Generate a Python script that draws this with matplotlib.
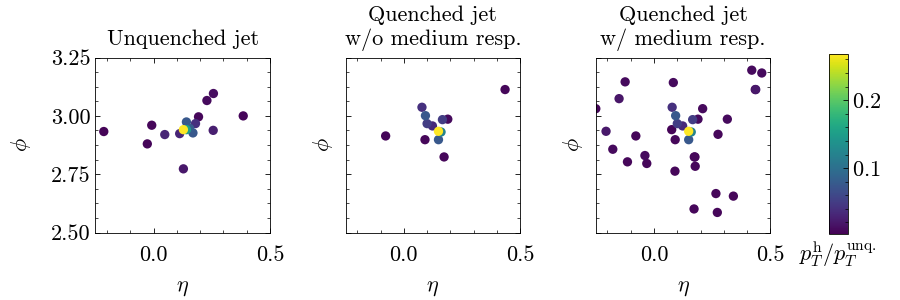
import numpy as np
import matplotlib
matplotlib.use("Agg")
import matplotlib.pyplot as plt
from matplotlib.ticker import AutoMinorLocator, MultipleLocator

plt.rcParams.update({
    "font.family": "serif",
    "font.serif": ["cmr10"],
    "mathtext.fontset": "cm",
    "axes.formatter.use_mathtext": True,
    "font.size": 16,
    "axes.linewidth": 0.6,
    "xtick.direction": "in",
    "ytick.direction": "in",
    "xtick.top": True,
    "ytick.right": True,
    "xtick.major.size": 3.5,
    "ytick.major.size": 3.5,
    "xtick.minor.size": 2,
    "ytick.minor.size": 2,
    "xtick.major.width": 0.6,
    "ytick.major.width": 0.6,
    "xtick.minor.width": 0.5,
    "ytick.minor.width": 0.5,
    "xtick.major.pad": 9,
})

titles = ["Unquenched jet", "Quenched jet\nw/o medium resp.", "Quenched jet\nw/ medium resp."]

# unquenched jet
eta_unq = [-0.214, -0.008, -0.027, 0.048, 0.112, 0.128, 0.180, 0.193, 0.229, 0.257, 0.256, 0.385,
           0.141, 0.155, 0.169, 0.141, 0.128]
phi_unq = [2.933, 2.960, 2.880, 2.920, 2.924, 2.773, 2.967, 2.996, 3.066, 3.096, 2.938, 3.000,
           2.974, 2.946, 2.927, 2.941, 2.941]
pt_unq = [0.006, 0.008, 0.007, 0.03, 0.03, 0.02, 0.04, 0.008, 0.01, 0.012, 0.025, 0.007,
          0.075, 0.08, 0.075, 0.15, 0.268]

# quenched jet, without medium response
eta_wo = [-0.078, 0.078, 0.093, 0.100, 0.123, 0.091, 0.149, 0.160, 0.149, 0.166, 0.189, 0.173, 0.435]
phi_wo = [2.914, 3.037, 3.001, 2.967, 2.957, 2.898, 2.934, 2.931, 2.898, 2.984, 2.986, 2.824, 3.113]
pt_wo = [0.007, 0.04, 0.075, 0.05, 0.035, 0.008, 0.268, 0.12, 0.075, 0.05, 0.01, 0.008, 0.008]

# quenched jet, with medium response (extra soft particles)
eta_extra = [-0.25, -0.206, -0.177, -0.150, -0.124, -0.114, -0.039, -0.031, 0.083, 0.076,
             0.209, 0.090, 0.176, 0.177, 0.275, 0.315, 0.266, 0.341, 0.172, 0.272,
             0.420, 0.463, 0.437]
phi_extra = [3.031, 2.934, 2.857, 3.074, 3.146, 2.803, 2.830, 2.796, 3.143, 2.941,
             3.031, 2.763, 2.824, 2.784, 2.921, 2.986, 2.667, 2.656, 2.601, 2.586,
             3.196, 3.184, 3.113]
pt_extra = [0.008, 0.02, 0.01, 0.018, 0.01, 0.008, 0.01, 0.008, 0.01, 0.006,
            0.01, 0.008, 0.008, 0.008, 0.008, 0.01, 0.008, 0.008, 0.008, 0.008,
            0.01, 0.01, 0.02]
eta_w = eta_wo + eta_extra
phi_w = phi_wo + phi_extra
pt_w = pt_wo + pt_extra

pt_min, pt_max = 0.003, 0.268

panels = [(eta_unq, phi_unq, pt_unq), (eta_wo, phi_wo, pt_wo), (eta_w, phi_w, pt_w)]

fig = plt.figure(figsize=(9, 3), dpi=100)
lefts = [0.106, 0.384, 0.662]
sc = None
for i, (eta, phi, pt) in enumerate(panels):
    ax = fig.add_axes([lefts[i], 0.225, 0.194, 0.583])
    order = np.argsort(pt)
    sc = ax.scatter(np.array(eta)[order], np.array(phi)[order], c=np.array(pt)[order],
                    cmap="viridis", vmin=pt_min, vmax=pt_max, s=45, linewidths=0)
    ax.set_xlim(-0.25, 0.5)
    ax.set_ylim(2.5, 3.25)
    ax.set_xticks([0.0, 0.5])
    ax.xaxis.set_minor_locator(MultipleLocator(0.1))
    ax.set_yticks([2.5, 2.75, 3.0, 3.25])
    ax.yaxis.set_minor_locator(AutoMinorLocator(4))
    ax.xaxis.set_major_formatter(plt.FormatStrFormatter("%.1f"))
    ax.yaxis.set_major_formatter(plt.FormatStrFormatter("%.2f"))
    if i > 0:
        ax.set_yticklabels([])
        ax.set_ylabel(r"$\phi$", labelpad=4)
    else:
        ax.set_ylabel(r"$\phi$", labelpad=13)
    ax.set_title(titles[i], fontsize=16, pad=9, linespacing=1.2)
    ax.set_xlabel(r"$\eta$", labelpad=10)

cax = fig.add_axes([0.9206, 0.22, 0.0211, 0.6])
cbar = fig.colorbar(sc, cax=cax)
cbar.set_ticks([0.1, 0.2])
cbar.ax.yaxis.set_minor_locator(MultipleLocator(0.02))
cbar.ax.tick_params(which="both", direction="in", right=True)
cbar.outline.set_linewidth(0.6)
cbar.ax.set_xlabel(r"$p_T^{\rm h}/p_T^{\rm unq.}$", labelpad=4)

fig.savefig("out.png", dpi=100)
